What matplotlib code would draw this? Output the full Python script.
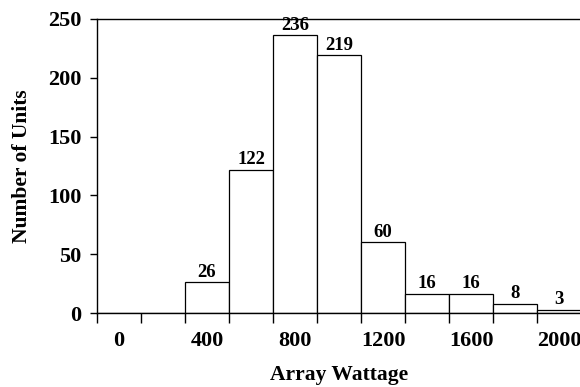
import matplotlib
matplotlib.use("Agg")
import matplotlib.pyplot as plt

categories = [0, 200, 400, 600, 800, 1000, 1200, 1400, 1600, 1800, 2000]
counts = [0, 0, 26, 122, 236, 219, 60, 16, 16, 8, 3]
tick_labels = ["0", "400", "800", "1200", "1600", "2000"]
y_ticks = [0, 50, 100, 150, 200, 250]

plt.rcParams['font.family'] = ['Liberation Serif', 'DejaVu Serif']
plt.rcParams['font.weight'] = 'bold'

fig = plt.figure(figsize=(5.8, 3.87), dpi=100)
ax = fig.add_axes([0.167, 0.191, 0.835, 0.760])

pos = list(range(len(categories)))
ax.bar(pos, counts, width=1.0, color='white', edgecolor='black', linewidth=0.9)
for p, c in zip(pos, counts):
    if c > 0:
        ax.text(p, c + 1.5, str(c), ha='center', va='bottom', fontsize=13.5, fontweight='bold')

ax.set_xlim(-0.5, len(categories) - 0.5)
ax.set_ylim(0, 250)
label_pos = [i for i, c in enumerate(categories) if str(c) in tick_labels]
ax.set_xticks(label_pos)
ax.set_xticklabels(tick_labels, fontsize=16, fontweight='bold')
ax.set_xticks([p - 0.5 for p in pos] + [len(pos) - 0.5], minor=True)
ax.tick_params(axis='x', which='major', length=0, pad=13)
ax.tick_params(axis='x', which='minor', length=7, width=1, direction='out')
ax.set_yticks(y_ticks)
ax.set_yticklabels([str(v) for v in y_ticks], fontsize=16, fontweight='bold')
ax.tick_params(axis='y', length=5, width=1, direction='out', pad=6)

ax.spines['right'].set_visible(False)
for s in ['left', 'top', 'bottom']:
    ax.spines[s].set_linewidth(1.0)

ax.set_xlabel('Array Wattage', fontsize=15.5, fontweight='bold', labelpad=10)
ax.set_ylabel('Number of Units', fontsize=15.5, fontweight='bold', labelpad=12)

fig.savefig('out.png', dpi=100)
